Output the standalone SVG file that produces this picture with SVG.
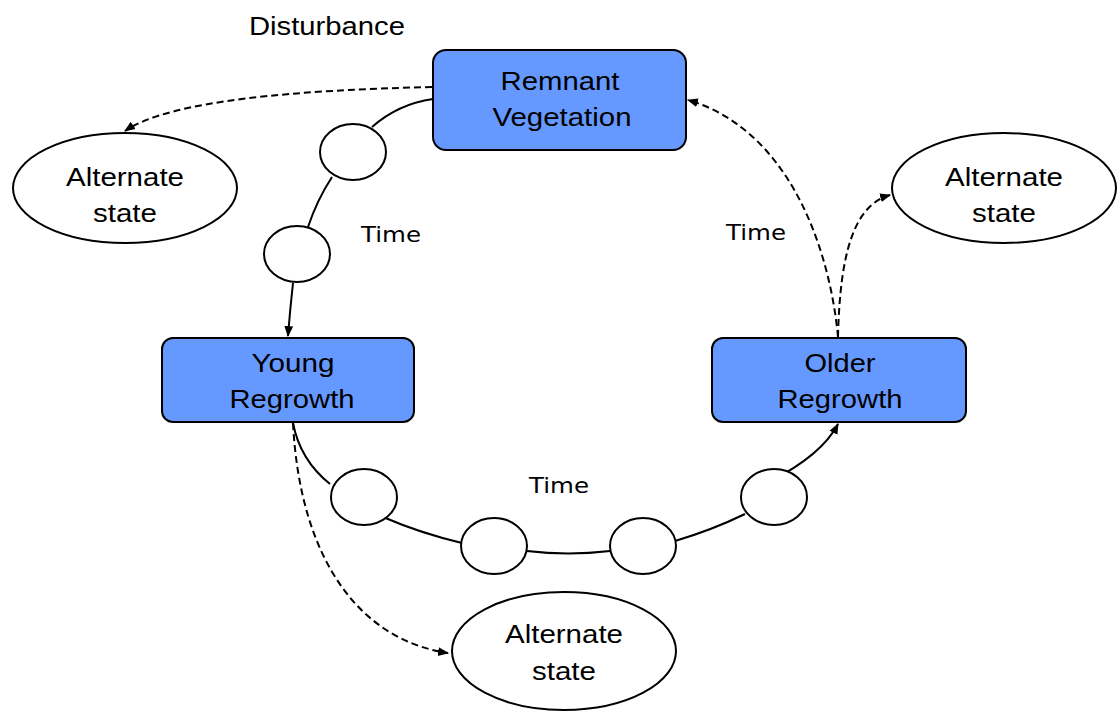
<svg xmlns="http://www.w3.org/2000/svg" width="1117" height="713" viewBox="0 0 1117 713">
<style>
.box{fill:#6699FF;stroke:#000;stroke-width:2}
.ell{fill:#fff;stroke:#000;stroke-width:2}
.t{font-family:"Liberation Sans",Arial,sans-serif;font-size:26px;fill:#000;text-anchor:middle}
.tm{font-family:"DejaVu Sans","Liberation Sans",sans-serif;font-size:21px;fill:#000;text-anchor:middle}
.sol{fill:none;stroke:#000;stroke-width:2}
.dash{fill:none;stroke:#000;stroke-width:2;stroke-dasharray:7,4}
</style>
<defs>
<marker id="arrB" viewBox="0 0 10 10" refX="9" refY="5" markerWidth="11" markerHeight="11" orient="auto" markerUnits="userSpaceOnUse">
<path d="M0,1 L10,5 L0,9 z" fill="#000"/>
</marker>
</defs>
<rect width="1117" height="713" fill="#fff"/>
<g id="connectors">
<path class="sol" d="M433,99 Q398,104 372,127"/>
<path class="sol" d="M332,177 Q317,200 308,227"/>
<path class="sol" d="M293,283 Q290,310 288,336" marker-end="url(#arrB)"/>
<path class="sol" d="M293,423 Q300,460 330,484"/>
<path class="sol" d="M383,517 Q420,533 462,543"/>
<path class="sol" d="M527,551 Q568,556 610,551"/>
<path class="sol" d="M675,541 Q712,530 745,514"/>
<path class="sol" d="M769,482 Q822,455 838,424" marker-end="url(#arrB)"/>
<path class="dash" d="M432,87 C300,90 170,100 125,131" marker-end="url(#arrB)"/>
<path class="dash" d="M838,337 C830,250 790,130 688,100" marker-end="url(#arrB)"/>
<path class="dash" d="M838,337 C840,250 855,205 890,195" marker-end="url(#arrB)"/>
<path class="dash" d="M293,423 C300,560 360,640 448,653" marker-end="url(#arrB)"/>
</g>
<g id="remnant">
<rect class="box" x="433" y="50" width="253" height="100" rx="13"/>
<text class="t" x="560" y="90" textLength="119" lengthAdjust="spacingAndGlyphs">Remnant</text>
<text class="t" x="562" y="126" textLength="139" lengthAdjust="spacingAndGlyphs">Vegetation</text>
</g>
<g id="young">
<rect class="box" x="162" y="338" width="252" height="84" rx="11"/>
<text class="t" x="293" y="372" textLength="83" lengthAdjust="spacingAndGlyphs">Young</text>
<text class="t" x="292" y="408" textLength="125" lengthAdjust="spacingAndGlyphs">Regrowth</text>
</g>
<g id="older">
<rect class="box" x="712" y="338" width="254" height="84" rx="11"/>
<text class="t" x="840" y="372" textLength="71" lengthAdjust="spacingAndGlyphs">Older</text>
<text class="t" x="840" y="408" textLength="125" lengthAdjust="spacingAndGlyphs">Regrowth</text>
</g>
<g id="alt-left">
<ellipse class="ell" cx="125" cy="188" rx="112" ry="55"/>
<text class="t" x="125" y="186" textLength="118" lengthAdjust="spacingAndGlyphs">Alternate</text>
<text class="t" x="125" y="222" textLength="64" lengthAdjust="spacingAndGlyphs">state</text>
</g>
<g id="alt-right">
<ellipse class="ell" cx="1004" cy="188" rx="112" ry="55"/>
<text class="t" x="1004" y="186" textLength="118" lengthAdjust="spacingAndGlyphs">Alternate</text>
<text class="t" x="1004" y="222" textLength="64" lengthAdjust="spacingAndGlyphs">state</text>
</g>
<g id="alt-bottom">
<ellipse class="ell" cx="564" cy="651" rx="112" ry="59"/>
<text class="t" x="564" y="643" textLength="118" lengthAdjust="spacingAndGlyphs">Alternate</text>
<text class="t" x="564" y="680" textLength="64" lengthAdjust="spacingAndGlyphs">state</text>
</g>
<g id="steps">
<ellipse class="ell" cx="353" cy="152" rx="33" ry="28"/>
<ellipse class="ell" cx="297" cy="254" rx="33" ry="28"/>
<ellipse class="ell" cx="364" cy="497" rx="33" ry="28"/>
<ellipse class="ell" cx="494" cy="546" rx="33" ry="28"/>
<ellipse class="ell" cx="643" cy="546" rx="33" ry="28"/>
<ellipse class="ell" cx="774" cy="497" rx="33" ry="28"/>
</g>
<g id="labels">
<text class="t" x="327" y="35" textLength="156" lengthAdjust="spacingAndGlyphs">Disturbance</text>
<text class="tm" x="391" y="242" textLength="60" lengthAdjust="spacingAndGlyphs">Time</text>
<text class="tm" x="756" y="240" textLength="60" lengthAdjust="spacingAndGlyphs">Time</text>
<text class="tm" x="559" y="493" textLength="60" lengthAdjust="spacingAndGlyphs">Time</text>
</g>
</svg>
